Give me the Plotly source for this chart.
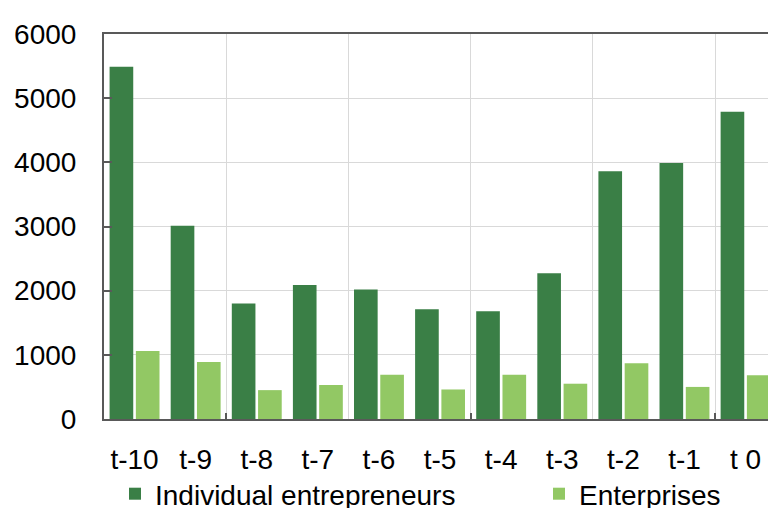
import plotly.graph_objects as go

# Periods and yearly counts for the two groups
periods = ["t-10", "t-9", "t-8", "t-7", "t-6", "t-5", "t-4", "t-3", "t-2", "t-1", "t 0"]
individual_entrepreneurs = [5490, 3010, 1800, 2090, 2020, 1710, 1680, 2270, 3860, 3990, 4790]
enterprises = [1060, 890, 450, 530, 690, 460, 690, 550, 870, 500, 680]
y_ticks = [0, 1000, 2000, 3000, 4000, 5000, 6000]

DARK = "#3A7F46"
LIGHT = "#92C864"
AXIS = "#595959"
GRID = "#D9D9D9"
FONT = "Liberation Sans, Arial, sans-serif"

x_range = [-0.5, 10.367]
n = len(periods)
# boundaries between every second period carry the vertical grid
grid_x = [i + 0.5 for i in range(1, n - 1, 2)]
tick_x = [i + 0.5 for i in range(1, n - 1, 4)]

fig = go.Figure()
fig.add_trace(go.Bar(x=periods, y=individual_entrepreneurs, name="Individual entrepreneurs",
                     marker=dict(color=DARK, line=dict(width=0)), legend="legend"))
fig.add_trace(go.Bar(x=periods, y=enterprises, name="Enterprises",
                     marker=dict(color=LIGHT, line=dict(width=0)), legend="legend2"))
# empty helpers so the overlay axes are drawn
fig.add_trace(go.Scatter(x=[], y=[], xaxis="x2", showlegend=False, hoverinfo="skip"))
fig.add_trace(go.Scatter(x=[], y=[], xaxis="x3", showlegend=False, hoverinfo="skip"))

legend_style = dict(orientation="h", xref="container", yref="container", xanchor="left",
                    yanchor="top", y=(508 - 469) / 508, font=dict(size=28), borderwidth=0,
                    bgcolor="rgba(0,0,0,0)", itemclick=False, itemdoubleclick=False)

fig.update_layout(
    width=768, height=508,
    margin=dict(l=104, r=0, t=34, b=89),
    paper_bgcolor="white", plot_bgcolor="white",
    font=dict(family=FONT, size=28, color="black"),
    barmode="group", bargap=0.14, bargroupgap=0.1,
    xaxis=dict(type="category", range=x_range, showgrid=False, ticks="",
               showline=True, mirror=True, linecolor=AXIS, linewidth=2,
               ticklabelstandoff=14, tickfont=dict(size=28), automargin=False),
    xaxis2=dict(overlaying="x", anchor="y", range=x_range, tickmode="array", tickvals=grid_x,
                showgrid=True, gridcolor=GRID, gridwidth=1, showticklabels=False,
                ticks="", showline=False, zeroline=False),
    xaxis3=dict(overlaying="x", anchor="y", range=x_range, tickmode="array", tickvals=tick_x,
                showgrid=False, showticklabels=False, ticks="inside", ticklen=6,
                tickwidth=2, tickcolor=AXIS, showline=False, zeroline=False),
    yaxis=dict(range=[0, 6000], tickmode="array", tickvals=y_ticks, showgrid=True,
               gridcolor=GRID, gridwidth=1, zeroline=False, showline=True,
               linecolor=AXIS, linewidth=2, ticks="inside", ticklen=8, tickwidth=2,
               tickcolor=AXIS, ticklabelstandoff=20, tickfont=dict(size=28), automargin=False),
    legend=dict(x=(155 - 40) / 768, **legend_style),
    legend2=dict(x=(579 - 40) / 768, **legend_style),
    showlegend=True,
)

fig.write_html("out.html")
